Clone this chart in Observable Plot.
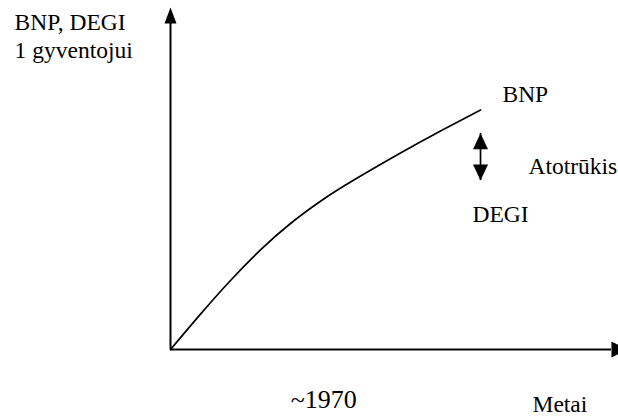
<!DOCTYPE html>
<html>
<head>
<meta charset="utf-8">
<script src="https://cdn.jsdelivr.net/npm/d3@7"></script>
<script src="https://cdn.jsdelivr.net/npm/@observablehq/plot@0.6"></script>
<style>
  html, body { margin: 0; padding: 0; background: #fff; overflow: hidden; }
  #chart svg { overflow: visible; display: block; }
</style>
</head>
<body>
<div id="chart"></div>
<script>
// Time index (x) and GDP per capita index (y) of the sketched BNP curve
const years = [0, 6.70, 13.39, 20.09, 26.79, 33.48, 40.18, 51.34, 60.27, 69.20];
const bnp   = [0, 10.35, 20.18, 29.12, 36.84, 43.33, 48.95, 57.43, 63.86, 70.06];

// Gap (Atotrūkis) double arrow, at the curve end
const gapX = [69.2];
const gapTop = [63.2];
const gapBottom = [49.4];

// Axis extents (arrow tips)
const xAxisEnd = 102;
const yAxisEnd = 100;

// Tick on the time axis
const xTickValues = [34.2];
const xTickLabels = ["~1970"];

// Labels
const labelTexts = ["BNP, DEGI\n1 gyventojui", "BNP", "Atotrūkis", "DEGI", "Metai"];
const labelX = [-34.8, 74.1, 79.9, 67.4, 80.8];
const labelY = [85.1, 72.5, 51.2, 37.4, -18.4];

const curve = years.map((x, i) => ({x, y: bnp[i]}));
const labels = labelTexts.map((t, i) => ({t, x: labelX[i], y: labelY[i]}));
const tickMap = new Map(xTickValues.map((v, i) => [v, xTickLabels[i]]));

const triangle = {
  draw(ctx, l, r) {
    ctx.moveTo(0, -l);
    ctx.lineTo(-r, 0);
    ctx.lineTo(r, 0);
    ctx.closePath();
  }
};

const font = "'Liberation Serif', 'Times New Roman', serif";
const headLen = 16;
const xBase = xAxisEnd - headLen / 4.48;
const yBase = yAxisEnd - headLen / 3.42;

const chart = Plot.plot({
  width: 618,
  height: 417,
  marginLeft: 170,
  marginRight: 0,
  marginTop: 7,
  marginBottom: 68,
  x: {domain: [0, 100]},
  y: {domain: [0, 100], axis: null},
  style: {fontFamily: font, color: "black", background: "white"},
  marks: [
    Plot.ruleX([0], {y1: 0, y2: yBase, stroke: "black", strokeWidth: 2}),
    Plot.ruleY([0], {x1: 0, x2: xBase, stroke: "black", strokeWidth: 2}),
    Plot.vector([{x: 0, y: yAxisEnd}], {x: "x", y: "y", length: headLen, r: 6, shape: triangle, anchor: "end", rotate: 0, fill: "black", stroke: "none"}),
    Plot.vector([{x: xAxisEnd, y: 0}], {x: "x", y: "y", length: headLen, r: 8, shape: triangle, anchor: "end", rotate: 90, fill: "black", stroke: "none"}),
    Plot.line(curve, {x: "x", y: "y", curve: "natural", stroke: "black", strokeWidth: 1.7}),
    Plot.ruleX(gapX, {y1: gapBottom, y2: gapTop, stroke: "black", strokeWidth: 1.7}),
    Plot.vector(gapX.map((x, i) => ({x, y: gapTop[i]})), {x: "x", y: "y", length: 16, r: 7.5, shape: triangle, anchor: "end", rotate: 0, fill: "black", stroke: "none"}),
    Plot.vector(gapX.map((x, i) => ({x, y: gapBottom[i]})), {x: "x", y: "y", length: 16, r: 7.5, shape: triangle, anchor: "end", rotate: 180, fill: "black", stroke: "none"}),
    Plot.axisX(xTickValues, {tickFormat: d => tickMap.get(d), tickSize: 0, tickPadding: 40, fontSize: 26, fontFamily: font, fill: "black", label: null}),
    Plot.text(labels, {x: "x", y: "y", text: "t", textAnchor: "start", lineAnchor: "bottom", lineHeight: 1.22, fontSize: 23.5, fontFamily: font, fill: "black"})
  ]
});
document.getElementById("chart").appendChild(chart);
</script>
</body>
</html>
